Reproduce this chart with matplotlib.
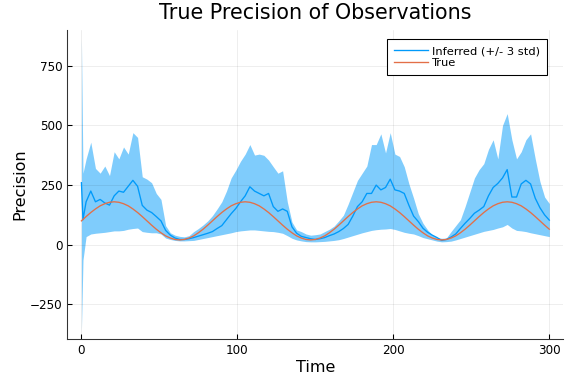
import numpy as np
import matplotlib
matplotlib.use('Agg')
import matplotlib.pyplot as plt

# Tijdstappen (eerste twee punten apart, daarna om de 3)
tijd = [0, 1] + list(range(3, 301, 3))

# Geschat gemiddelde (blauwe lijn)
gemiddelde = [260, 105,
    180, 225, 180, 190, 175, 166, 205, 225, 220, 245, 270, 245, 165, 145, 135, 118, 100, 60,
    40, 28, 22, 22, 25, 30, 36, 42, 48, 55, 68, 80, 105, 130, 152, 180, 205, 243, 225, 215,
    205, 215, 160, 140, 150, 140, 75, 48, 35, 30, 25, 22, 25, 30, 38, 45, 55, 68, 85, 120,
    160, 180, 215, 215, 250, 230, 240, 275, 230, 225, 215, 165, 120, 97, 69, 52, 40, 30, 18, 22,
    32, 45, 68, 90, 110, 132, 145, 160, 205, 240, 257, 280, 315, 200, 200, 255, 270, 255, 195, 155,
    125, 103]

# Bovengrens (+3 std)
boven = [864, 300,
    360, 430, 320, 300, 330, 290, 390, 360, 410, 380, 470, 450, 285, 275, 260, 215, 190, 80,
    50, 40, 35, 33, 38, 55, 68, 83, 100, 122, 150, 180, 225, 280, 313, 350, 380, 420, 376, 380,
    375, 355, 327, 300, 310, 180, 95, 62, 55, 45, 40, 42, 45, 55, 65, 78, 100, 124, 170, 220,
    270, 300, 330, 420, 420, 465, 385, 470, 380, 370, 327, 255, 195, 130, 90, 62, 41, 30, 27, 28,
    55, 80, 105, 160, 220, 280, 315, 340, 400, 440, 360, 500, 550, 440, 360, 390, 440, 465, 360, 265,
    200, 173]

# Ondergrens (-3 std)
onder = [-360, -64,
    34, 45, 48, 50, 52, 55, 58, 58, 60, 65, 68, 70, 55, 52, 50, 50, 45, 28,
    22, 18, 16, 16, 17, 18, 22, 26, 30, 34, 38, 42, 46, 50, 55, 58, 60, 62, 62, 60,
    58, 56, 55, 52, 48, 38, 27, 20, 16, 13, 12, 12, 13, 14, 16, 18, 21, 26, 32, 38,
    44, 50, 55, 60, 63, 65, 66, 68, 64, 58, 52, 48, 45, 38, 30, 25, 20, 15, 12, 13,
    15, 20, 26, 32, 38, 44, 50, 56, 60, 64, 70, 75, 85, 70, 60, 58, 55, 50, 46, 42,
    38, 34]

# Echte waarde (rode lijn)
cyclus = [118, 135, 150, 163, 172, 178, 180, 178, 172, 163, 150, 135, 118, 100,
          82, 65, 50, 37, 28, 22, 20, 22, 28, 37, 50, 65, 82, 100]
echt = [100, 106] + cyclus * 3 + cyclus[:16]

assert len(tijd) == len(gemiddelde) == len(boven) == len(onder) == len(echt)

blauw = '#009AFA'
rood = '#E36F47'

fig = plt.figure(figsize=(6, 4), dpi=96)
ax = fig.add_axes([0.117, 0.1164, 0.861, 0.8056])

ax.fill_between(tijd, onder, boven, color=blauw, alpha=0.5, linewidth=0)
ax.plot(tijd, gemiddelde, color=blauw, lw=1, label='Inferred (+/- 3 std)')
ax.plot(tijd, echt, color=rood, lw=1, label='True')

ax.margins(x=0.03, y=0.03)
ax.set_xticks([0, 100, 200, 300])
ax.set_yticks([-250, 0, 250, 500, 750])
ax.set_yticklabels(['\u2212250', '0', '250', '500', '750'])
ax.grid(True, color='black', alpha=0.1, lw=0.5)
ax.tick_params(direction='in', length=4, width=0.8, labelsize=9)
for s in ['top', 'right']:
    ax.spines[s].set_visible(False)
for s in ['left', 'bottom']:
    ax.spines[s].set_color('#333333')
    ax.spines[s].set_linewidth(0.8)

ax.set_title('True Precision of Observations', fontsize=15.5, pad=8.5)
ax.set_xlabel('Time', fontsize=12, labelpad=2)
ax.set_ylabel('Precision', fontsize=12, labelpad=2)

leg = ax.legend(loc='upper right', bbox_to_anchor=(0.978, 0.988), fontsize=8.6,
                fancybox=False, framealpha=1, edgecolor='black', handlelength=3,
                borderpad=0.6, handletextpad=0.3, labelspacing=0.15)
leg.get_frame().set_linewidth(0.8)

fig.savefig('out.png', dpi=96)
